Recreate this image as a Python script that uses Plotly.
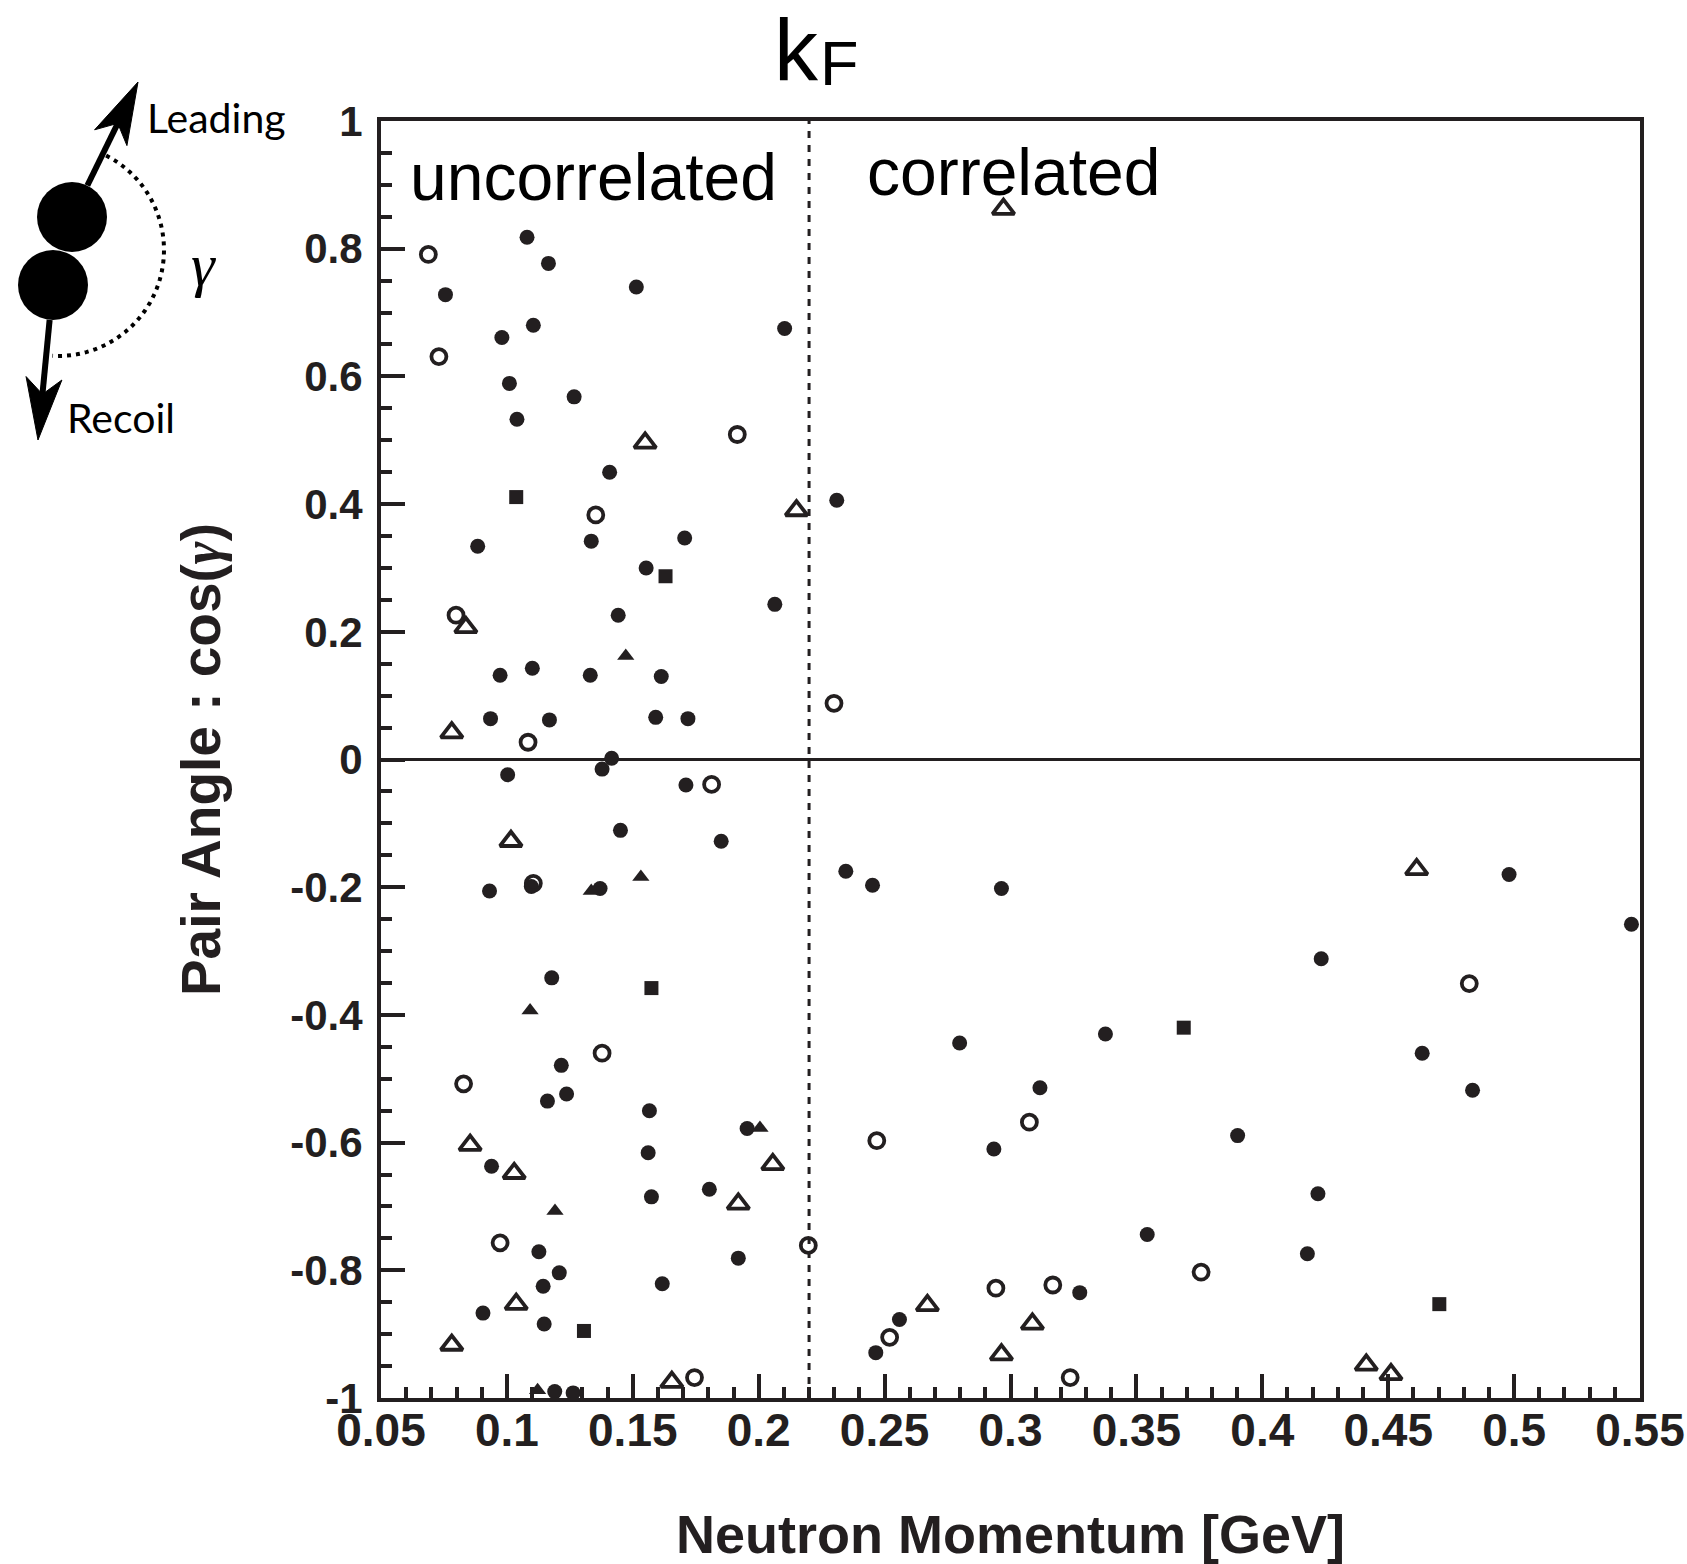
import numpy as np
import plotly.graph_objects as go

# ---------------- data ----------------
filled_circle_x = [0.0756, 0.098, 0.101, 0.104, 0.1105, 0.1165, 0.108, 0.1514, 0.1267, 0.2103,
                   0.1408, 0.1335, 0.1706, 0.0884, 0.1553, 0.231, 0.2064, 0.1442, 0.0973, 0.1101,
                   0.1331, 0.1613, 0.0935, 0.1169, 0.1591, 0.1719, 0.1416, 0.1003, 0.1378, 0.1711,
                   0.1451, 0.1851, 0.1097, 0.0931, 0.137, 0.1178, 0.1216, 0.1237, 0.1161, 0.1566,
                   0.1954, 0.1561, 0.0939, 0.1574, 0.1804, 0.1127, 0.1919, 0.1208, 0.1144, 0.1617,
                   0.0905, 0.1148, 0.119, 0.1263,
                   0.2346, 0.2452, 0.2964, 0.498, 0.5466, 0.4234, 0.2798, 0.3377, 0.4635, 0.3117,
                   0.4835, 0.2934, 0.3902, 0.4221, 0.3543, 0.4179, 0.3275, 0.2559, 0.2465]
filled_circle_y = [0.728, 0.661, 0.589, 0.533, 0.680, 0.777, 0.818, 0.740, 0.568, 0.675,
                   0.450, 0.342, 0.347, 0.334, 0.300, 0.406, 0.243, 0.226, 0.132, 0.143,
                   0.132, 0.130, 0.064, 0.062, 0.066, 0.064, 0.002, -0.024, -0.015, -0.040,
                   -0.111, -0.128, -0.199, -0.206, -0.202, -0.342, -0.479, -0.524, -0.535, -0.550,
                   -0.578, -0.616, -0.637, -0.685, -0.673, -0.771, -0.781, -0.804, -0.825, -0.821,
                   -0.867, -0.884, -0.990, -0.992,
                   -0.175, -0.197, -0.202, -0.180, -0.258, -0.312, -0.444, -0.430, -0.460, -0.514,
                   -0.518, -0.610, -0.589, -0.680, -0.744, -0.774, -0.835, -0.877, -0.929]

open_circle_x = [0.0688, 0.073, 0.1915, 0.1353, 0.0798, 0.1084, 0.2299, 0.1813, 0.1105, 0.1378,
                 0.0828, 0.0973, 0.2197, 0.1745, 0.4822, 0.3075, 0.2469, 0.3757, 0.2942, 0.3168,
                 0.252, 0.3237]
open_circle_y = [0.791, 0.631, 0.509, 0.383, 0.226, 0.027, 0.088, -0.039, -0.194, -0.460,
                 -0.508, -0.757, -0.761, -0.968, -0.351, -0.568, -0.597, -0.803, -0.828, -0.823,
                 -0.905, -0.968]

open_triangle_x = [0.1549, 0.215, 0.0837, 0.0781, 0.2972, 0.1016, 0.0854, 0.1029, 0.2056, 0.1919,
                   0.1037, 0.0781, 0.1655, 0.4613, 0.267, 0.3087, 0.2964, 0.4413, 0.4511]
open_triangle_y = [0.496, 0.390, 0.207, 0.042, 0.862, -0.128, -0.604, -0.648, -0.634, -0.696,
                   -0.853, -0.917, -0.975, -0.172, -0.855, -0.884, -0.932, -0.948, -0.963]

filled_triangle_x = [0.1472, 0.1335, 0.1532, 0.1092, 0.2005, 0.1191, 0.1122]
filled_triangle_y = [0.162, -0.206, -0.184, -0.393, -0.577, -0.707, -0.988]

filled_square_x = [0.1037, 0.163, 0.1574, 0.1306, 0.3688, 0.4703]
filled_square_y = [0.411, 0.287, -0.358, -0.895, -0.420, -0.853]

KF = 0.22  # Fermi momentum [GeV]

x_tick_vals = [0.05, 0.1, 0.15, 0.2, 0.25, 0.3, 0.35, 0.4, 0.45, 0.5, 0.55]
x_tick_text = ["0.05", "0.1", "0.15", "0.2", "0.25", "0.3", "0.35", "0.4", "0.45", "0.5", "0.55"]
y_tick_vals = [-1, -0.8, -0.6, -0.4, -0.2, 0, 0.2, 0.4, 0.6, 0.8, 1]
y_tick_text = ["-1", "-0.8", "-0.6", "-0.4", "-0.2", "0", "0.2", "0.4", "0.6", "0.8", "1"]

# ---------------- styling / geometry ----------------
INK = "#231f20"
W, H = 1687, 1564
L, R, T, B = 381, 1640, 121, 1398
SANS = "Liberation Sans, Arial, Helvetica, sans-serif"


def px(x):
    return (x - L) / (R - L)


def py(y):
    return (B - y) / (B - T)


fig = go.Figure()
fig.add_trace(go.Scatter(x=filled_circle_x, y=filled_circle_y, mode="markers",
                         marker=dict(symbol="circle", size=15, color=INK), showlegend=False))
fig.add_trace(go.Scatter(x=filled_square_x, y=filled_square_y, mode="markers",
                         marker=dict(symbol="square", size=14, color=INK), showlegend=False))
fig.add_trace(go.Scatter(x=filled_triangle_x, y=filled_triangle_y, mode="markers",
                         marker=dict(symbol="triangle-up", size=15, color=INK), showlegend=False))
fig.add_trace(go.Scatter(x=open_triangle_x, y=open_triangle_y, mode="markers",
                         marker=dict(symbol="triangle-up-open", size=19, color=INK,
                                     line=dict(width=3.8, color=INK)), showlegend=False))
fig.add_trace(go.Scatter(x=open_circle_x, y=open_circle_y, mode="markers",
                         marker=dict(symbol="circle-open", size=15, color=INK,
                                     line=dict(width=3.8, color=INK)), showlegend=False))

shapes = []
# kF dashed vertical line
shapes.append(dict(type="line", xref="x", yref="paper", x0=KF, x1=KF, y0=0, y1=1,
                   line=dict(color=INK, width=3, dash="7px,7px"), layer="below"))

# ----- inset diagram (pixel geometry converted to paper coords) -----
up_c, up_r = (72, 217), 35
lo_c, lo_r = (53, 285), 35
for (cx, cy), r in [(up_c, up_r), (lo_c, lo_r)]:
    shapes.append(dict(type="circle", xref="paper", yref="paper",
                       x0=px(cx - r), x1=px(cx + r), y0=py(cy + r), y1=py(cy - r),
                       fillcolor="black", line=dict(width=0)))


def arrow(center, r, tip, head_len=62, half_w=18, notch=46):
    c = np.array(center, float)
    t = np.array(tip, float)
    u = (t - c) / np.linalg.norm(t - c)
    n = np.array([-u[1], u[0]])
    start = c + u * r
    nb = t - u * (notch - 2)
    b1 = t - u * head_len + n * half_w
    b2 = t - u * head_len - n * half_w
    out = [dict(type="line", xref="paper", yref="paper",
                x0=px(start[0]), y0=py(start[1]), x1=px(nb[0]), y1=py(nb[1]),
                line=dict(color="black", width=6))]
    pts = [t, b1, t - u * notch, b2]
    path = "M " + " L ".join(f"{px(p[0]):.5f},{py(p[1]):.5f}" for p in pts) + " Z"
    out.append(dict(type="path", xref="paper", yref="paper", path=path,
                     fillcolor="black", line=dict(color="black", width=1)))
    return out


shapes += arrow(up_c, up_r, (138, 82))
shapes += arrow(lo_c, lo_r, (38, 440))

arc_c, arc_r = (58, 250), 106
ang = np.radians(np.linspace(-63, 93, 60))
arc_pts = [(arc_c[0] + arc_r * np.cos(a), arc_c[1] + arc_r * np.sin(a)) for a in ang]
arc_path = "M " + " L ".join(f"{px(x):.5f},{py(y):.5f}" for x, y in arc_pts)
shapes.append(dict(type="path", xref="paper", yref="paper", path=arc_path,
                   line=dict(color="black", width=4, dash="4px,5px")))

annotations = [
    dict(text="k", x=px(772), y=py(49), xref="paper", yref="paper", xanchor="left", yanchor="middle",
         showarrow=False, font=dict(family=SANS, size=88, color="black")),
    dict(text="F", x=px(818), y=py(63), xref="paper", yref="paper", xanchor="left", yanchor="middle",
         showarrow=False, font=dict(family=SANS, size=63, color="black")),
    dict(text="uncorrelated", x=px(408), y=py(177), xref="paper", yref="paper", xanchor="left",
         yanchor="middle", showarrow=False, font=dict(family=SANS, size=66, color="black")),
    dict(text="correlated", x=px(865), y=py(172), xref="paper", yref="paper", xanchor="left",
         yanchor="middle", showarrow=False, font=dict(family=SANS, size=66, color="black")),
    dict(text="Leading", x=px(145), y=py(118), xref="paper", yref="paper", xanchor="left",
         yanchor="middle", showarrow=False, font=dict(family="Lato, sans-serif", size=41, color="black")),
    dict(text="Recoil", x=px(65), y=py(418), xref="paper", yref="paper", xanchor="left",
         yanchor="middle", showarrow=False, font=dict(family="Lato, sans-serif", size=41, color="black")),
    dict(text="<i>γ</i>", x=px(203), y=py(265), xref="paper", yref="paper", xanchor="center",
         yanchor="middle", showarrow=False,
         font=dict(family="Liberation Serif, DejaVu Serif, serif", size=60, color="black")),
]

axis_common = dict(showline=True, linewidth=4, linecolor=INK, mirror=True, ticks="inside",
                   ticklen=24, tickwidth=4, tickcolor=INK, showgrid=False, automargin=False,
                   ticklabeloverflow="allow")

fig.update_layout(
    width=W, height=H,
    margin=dict(l=L, r=W - R, t=T, b=H - B),
    paper_bgcolor="white", plot_bgcolor="white",
    template="none",
    showlegend=False,
    shapes=shapes,
    annotations=annotations,
    xaxis=dict(range=[0.05, 0.55], tickmode="array", tickvals=x_tick_vals, ticktext=x_tick_text,
               tickfont=dict(family=SANS, size=46, color=INK, weight="bold"),
               ticklabelstandoff=-11,
               zeroline=False,
               minor=dict(ticks="inside", ticklen=11, tickwidth=4, tickcolor=INK,
                          tick0=0.05, dtick=0.01, showgrid=False),
               title=dict(text="Neutron Momentum [GeV]", standoff=66,
                          font=dict(family=SANS, size=54, color=INK, weight="bold")),
               **axis_common),
    yaxis=dict(range=[-1, 1], tickmode="array", tickvals=y_tick_vals, ticktext=y_tick_text,
               tickfont=dict(family=SANS, size=42, color=INK, weight="bold"),
               ticklabelstandoff=6,
               zeroline=True, zerolinecolor=INK, zerolinewidth=3,
               minor=dict(ticks="inside", ticklen=11, tickwidth=4, tickcolor=INK,
                          tick0=0, dtick=0.05, showgrid=False),
               title=dict(text="Pair Angle : cos(<span style='font-family:Liberation Serif'><i>γ</i></span>)",
                          standoff=53,
                          font=dict(family=SANS, size=55, color=INK, weight="bold")),
               **axis_common),
)

fig.write_html("out.html")
